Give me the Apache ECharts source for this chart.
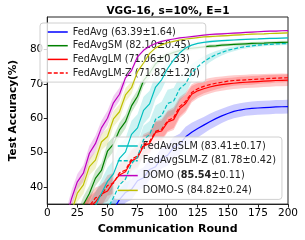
<!DOCTYPE html>
<html><head><meta charset="utf-8">
<script src="https://cdn.jsdelivr.net/npm/echarts@6/dist/echarts.min.js"></script>
<style>html,body{margin:0;padding:0;background:#fff}#c{width:305px;height:240px}</style>
</head><body><div id="c"></div>
<script>
const rounds = [0,5,10,15,20,25,30,35,40,45,50,55,60,65,70,75,80,85,90,95,100,105,110,115,120,125,130,135,140,145,150,155,160,165,170,175,180,185,190,195,200];
const xTicks = [0,25,50,75,100,125,150,175,200];
const yTicks = [40,50,60,70,80];

const fedAvg     = [10,12,14,16,18,20,22,24,26,28,30.5,33.5,36.3,38.4,39.3,41.8,42.7,45.1,45.9,48.4,49.2,51.6,52.5,54.6,55.9,57,58,59,59.9,60.7,61.4,62,62.4,62.7,62.9,63,63.1,63.2,63.3,63.35,63.4];
const fedAvgStd  = [1,1.2,1.4,1.6,1.8,2,2.2,2.4,2.6,2.8,3,3,3,3,3,3,3,3,3,3,3,3,3,2.9,2.8,2.6,2.4,2.3,2.2,2.1,2.0,2.0,2.0,2.0,2.0,2.0,2.0,2.0,2.0,2.0,2.0];
const fedAvgSM   = [10,12,16,21,26,30.6,34.9,38.1,42.5,44.8,50.4,52.5,56.6,59.0,63.6,66.4,71.0,73.2,75.9,77.5,78.5,79.2,79.7,80.1,80.4,80.6,80.8,81.0,81.1,81.3,81.4,81.5,81.6,81.7,81.8,81.85,81.9,82.0,82.05,82.1,82.15];
const fedAvgSMStd= [1,1.5,2,2,2.2,2.2,2.3,2.3,2.2,2.2,2.3,2.2,2.1,2.0,1.9,1.8,1.6,1.4,1.1,0.9,0.8,0.7,0.6,0.6,0.55,0.5,0.5,0.5,0.45,0.45,0.45,0.45,0.45,0.45,0.45,0.45,0.45,0.45,0.45,0.45,0.45];
const fedAvgLM   = [10,13,17,21.5,25.5,29,32.5,34.2,35.6,37.9,38.8,41.4,43.5,44.4,47.6,48.5,51.9,52.7,55.9,56.3,58.9,59.6,62.8,64.3,67,68,68.6,69.1,69.5,69.8,70,70.2,70.4,70.5,70.6,70.7,70.8,70.9,71,71.05,71.1];
const fedAvgLMStd= [1,1.5,2,2.5,3,3,3,3,3,3,3,3,3,3,3,3,3,3,3,3,3,3,2.8,2.6,2.4,2.2,2,1.9,1.8,1.8,1.7,1.7,1.7,1.7,1.7,1.7,1.7,1.7,1.7,1.7,1.7];
const fedAvgLMZ  = [10,12.5,16.5,21,25,28.5,32,34.5,36.8,37.5,40.4,41.1,44.1,44.9,48.1,49.0,52.4,53.2,56.2,56.8,59.3,60.2,63.4,64.9,67.5,68.6,69.3,69.8,70.2,70.5,70.8,71,71.1,71.2,71.3,71.4,71.5,71.6,71.7,71.75,71.8];
const fedAvgLMZStd=[1,1.5,2,2.5,3,3,3,3,3,3,3,3,3,3,3,3,3,3,3,3,3,3,2.8,2.6,2.4,2.2,2,1.9,1.8,1.7,1.6,1.5,1.5,1.5,1.5,1.4,1.4,1.4,1.3,1.3,1.2];
const fedAvgSLM  = [10,11,13,16,20,24,28,31.5,34.5,38.1,41.6,43.8,48.3,50.2,55.3,57.2,62.3,64.2,69.1,71.2,74.5,77,79,80.5,81.3,81.8,82.1,82.3,82.5,82.6,82.7,82.8,82.9,83.0,83.05,83.1,83.2,83.25,83.3,83.35,83.4];
const fedAvgSLMStd=[1,1.5,2,2.5,3,3.5,3.8,4,4,4,4,4,4,4,4,4,4,3.8,3.5,3,2.5,2,1.5,1.1,0.8,0.6,0.5,0.4,0.35,0.3,0.3,0.25,0.25,0.2,0.2,0.2,0.2,0.2,0.2,0.17,0.17];
const fedAvgSLMZ = [10,10.5,11.5,13,15,17.5,20.5,23.5,27,30.5,33.5,36.9,40.6,42.3,46.8,48.7,53.8,55.2,59.7,60.8,64.3,65.0,68.6,70.1,73.3,75,76.5,77.6,78.5,79.2,79.8,80.2,80.6,80.9,81.1,81.3,81.45,81.55,81.65,81.72,81.8];
const fedAvgSLMZStd=[1,1.5,2,2.5,3,3.5,3.8,4,4,4,4,4,4,4,4,4,4,4,4,4,4,3.8,3.5,3,2.5,2,1.6,1.3,1.1,0.9,0.8,0.7,0.6,0.55,0.5,0.5,0.45,0.45,0.42,0.42,0.42];
const domo       = [10,15,22,30,36.4,41.5,44.0,49.8,52.6,57.2,60.0,64.5,67.0,71.8,73.9,77.9,79.8,81.0,81.8,82.4,82.8,83.1,83.4,83.6,83.8,84.0,84.2,84.4,84.5,84.6,84.7,84.8,84.9,85.0,85.1,85.2,85.3,85.4,85.4,85.5,85.55];
const domoStd    = [1,1.5,2,2.2,2.4,2.3,2.4,2.2,2.3,2.1,2.2,2,1.9,1.7,1.5,1.2,0.9,0.7,0.6,0.5,0.45,0.4,0.4,0.35,0.35,0.3,0.3,0.3,0.25,0.25,0.25,0.2,0.2,0.2,0.2,0.2,0.15,0.15,0.15,0.12,0.11];
const domoS      = [10,13,19,26,32.5,38.2,40.6,45.9,47.8,53.1,54.7,59.8,61.9,66.8,68.9,73.6,76.1,78.9,80.5,81.4,82.0,82.4,82.8,83.1,83.3,83.5,83.7,83.8,83.9,84.0,84.1,84.2,84.3,84.4,84.5,84.55,84.6,84.7,84.75,84.8,84.85];
const domoSStd   = [1,1.5,2,2.3,2.5,2.5,2.6,2.5,2.5,2.4,2.4,2.3,2.2,2,1.8,1.5,1.2,0.9,0.7,0.6,0.5,0.45,0.4,0.4,0.35,0.35,0.3,0.3,0.3,0.28,0.28,0.26,0.26,0.25,0.25,0.25,0.24,0.24,0.24,0.24,0.24];

const names  = ['FedAvg','FedAvgSM','FedAvgLM','FedAvgLM-Z','FedAvgSLM','FedAvgSLM-Z','DOMO','DOMO-S'];
const labels = ['FedAvg (63.39±1.64)','FedAvgSM (82.10±0.45)','FedAvgLM (71.06±0.33)','FedAvgLM-Z (71.82±1.20)',
                'FedAvgSLM (83.41±0.17)','FedAvgSLM-Z (81.78±0.42)','DOMO ({b|85.54}±0.11)','DOMO-S (84.82±0.24)'];
const means  = [fedAvg,fedAvgSM,fedAvgLM,fedAvgLMZ,fedAvgSLM,fedAvgSLMZ,domo,domoS];
const stds   = [fedAvgStd,fedAvgSMStd,fedAvgLMStd,fedAvgLMZStd,fedAvgSLMStd,fedAvgSLMZStd,domoStd,domoSStd];
const colors = ['#0000ff','#008000','#ff0000','#ff0000','#00bfbf','#00bfbf','#bf00bf','#bfbf00'];
const dashed = [false,false,false,true,false,true,false,false];

const FONT = 'DejaVu Sans';
const series = [];
names.forEach((n,k)=>{
  const m = means[k], s = stds[k];
  series.push({
    type:'custom', name:'band'+k, silent:true, clip:true, z:1,
    data: rounds.map((r,i)=>[r,m[i]]),
    encode:{x:0,y:1},
    renderItem:function(params, api){
      if (params.dataIndex !== 0) return null;
      const pts = [];
      for (let i=0;i<rounds.length;i++) pts.push(api.coord([rounds[i], m[i]+s[i]]));
      for (let i=rounds.length-1;i>=0;i--) pts.push(api.coord([rounds[i], m[i]-s[i]]));
      return {type:'polygon', shape:{points:pts}, style:{fill:colors[k], opacity:0.2}};
    }
  });
});
names.forEach((n,k)=>{
  series.push({
    type:'line', name:n, symbol:'none', z:2+k, clip:true,
    data: rounds.map((r,i)=>[r,means[k][i]]),
    lineStyle:{color:colors[k], width:1.2, type: dashed[k] ? [4,2] : 'solid'},
    itemStyle:{color:colors[k]}
  });
});

const legendCommon = {
  orient:'vertical', itemWidth:20, itemHeight:10,
  backgroundColor:'rgba(255,255,255,0.8)', borderColor:'#d0d0d0', borderWidth:1, borderRadius:3,
  itemStyle:{opacity:0, color:'rgba(0,0,0,0)', borderWidth:0},
  lineStyle:{width:1.5},
  textStyle:{fontFamily:FONT, fontSize:9.7, color:'#222', rich:{b:{fontFamily:FONT, fontSize:9.7, fontWeight:'bold', color:'#222'}}},
  formatter:function(name){ return labels[names.indexOf(name)]; }
};

const chart = echarts.init(document.getElementById('c'), null, {renderer:'canvas'});
chart.setOption({
  animation:false,
  backgroundColor:'#fff',
  title:{text:'VGG-16, s=10%, E=1', left:163, top:1, textAlign:'center',
    textStyle:{fontFamily:FONT, fontSize:10.5, fontWeight:'bold', color:'#000'}},
  grid:{left:38, right:17, top:17, bottom:35, show:true, borderColor:'#222', borderWidth:1, backgroundColor:'transparent'},
  xAxis:{type:'value', min:0, max:200, interval:25,
    name:'Communication Round', nameLocation:'middle', nameGap:17,
    nameTextStyle:{fontFamily:FONT, fontSize:11, fontWeight:'bold', color:'#000'},
    axisLine:{show:true, lineStyle:{color:'#222'}}, splitLine:{show:false},
    axisTick:{show:true, length:3.5, lineStyle:{color:'#222'}},
    axisLabel:{fontFamily:FONT, fontSize:10.5, color:'#000', margin:4}},
  yAxis:{type:'value', min:35, max:89.5,
    name:'Test Accuracy(%)', nameLocation:'middle', nameGap:24,
    nameTextStyle:{fontFamily:FONT, fontSize:10.5, fontWeight:'bold', color:'#000'},
    axisLine:{show:true, lineStyle:{color:'#222'}}, splitLine:{show:false},
    axisTick:{show:true, length:3.5, customValues:yTicks, lineStyle:{color:'#222'}},
    axisLabel:{fontFamily:FONT, fontSize:10.5, color:'#000', margin:4, customValues:yTicks}},
  legend:[
    Object.assign({}, legendCommon, {left:40, top:23, itemGap:3.7, padding:[4,6,4,7], data:names.slice(0,4)}),
    Object.assign({}, legendCommon, {left:113, top:137, itemGap:4.8, padding:[4,6,4,4], data:names.slice(4)})
  ],
  series:series
});
</script></body></html>
